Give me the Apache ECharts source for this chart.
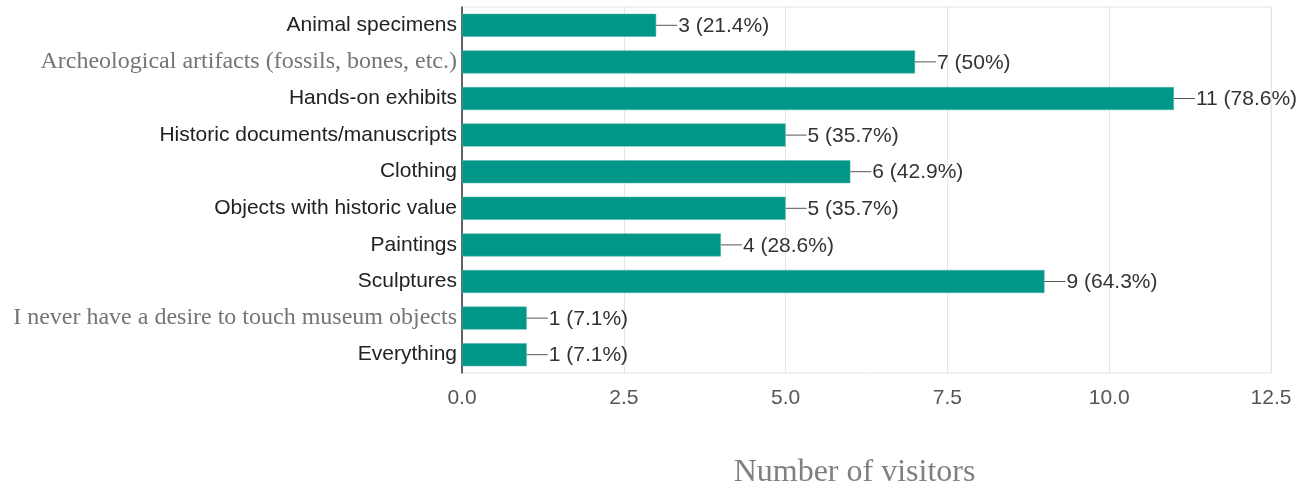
<!DOCTYPE html>
<html>
<head>
<meta charset="utf-8">
<script src="https://cdn.jsdelivr.net/npm/echarts@6/dist/echarts.min.js"></script>
<style>
html,body{margin:0;padding:0;background:#fff;}
#chart{width:1302px;height:491px;}
</style>
</head>
<body>
<div id="chart"></div>
<script>
var categories = [
  "Animal specimens",
  "Archeological artifacts (fossils, bones, etc.)",
  "Hands-on exhibits",
  "Historic documents/manuscripts",
  "Clothing",
  "Objects with historic value",
  "Paintings",
  "Sculptures",
  "I never have a desire to touch museum objects",
  "Everything"
];
var counts = [3, 7, 11, 5, 6, 5, 4, 9, 1, 1];
var percents = ["21.4%", "50%", "78.6%", "35.7%", "42.9%", "35.7%", "28.6%", "64.3%", "7.1%", "7.1%"];
var serifCategories = [1, 8];
var xTicks = { min: 0, max: 12.5, interval: 2.5 };
var axisTitle = "Number of visitors";

var chart = echarts.init(document.getElementById('chart'));
chart.setOption({
  animation: false,
  grid: { left: 462, right: 31, top: 7, bottom: 118, show: true, borderColor: '#e6e6e6', borderWidth: 1, outerBoundsMode: 'none', containLabel: false },
  xAxis: {
    type: 'value',
    min: xTicks.min, max: xTicks.max, interval: xTicks.interval,
    axisLine: { show: false },
    axisTick: { show: false },
    splitLine: { show: true, lineStyle: { color: '#e6e6e6', width: 1 } },
    axisLabel: {
      color: '#555', fontSize: 21, fontFamily: 'Liberation Sans, Arial, sans-serif', margin: 15,
      formatter: function (v) { return v.toFixed(1); }
    },
    name: axisTitle,
    nameLocation: 'middle',
    nameGap: 84,
    nameTextStyle: { color: '#808080', fontSize: 32, fontFamily: 'Liberation Serif, Times New Roman, serif', padding: [0, 24, 0, 0] }
  },
  yAxis: {
    type: 'category',
    data: categories,
    inverse: true,
    axisLine: { show: true, lineStyle: { color: '#333', width: 1.5 } },
    axisTick: { show: false },
    axisLabel: {
      margin: 5,
      formatter: function (v, i) {
        return serifCategories.indexOf(i) >= 0 ? '{s|' + v + '}' : '{n|' + v + '}';
      },
      rich: {
        n: { color: '#222', fontSize: 21, fontFamily: 'Liberation Sans, Arial, sans-serif' },
        s: { color: '#757575', fontSize: 24, fontFamily: 'Liberation Serif, Times New Roman, serif' }
      }
    }
  },
  series: [
    {
      type: 'bar',
      data: counts,
      barWidth: 23,
      itemStyle: { color: '#009688', borderColor: '#4db6ac', borderWidth: 0.5 }
    },
    {
      type: 'custom',
      data: counts.map(function (c, i) { return [c, i]; }),
      z: 5,
      renderItem: function (params, api) {
        var p = api.coord([api.value(0), api.value(1)]);
        var i = params.dataIndex;
        return {
          type: 'group',
          children: [
            { type: 'line', shape: { x1: p[0], y1: p[1], x2: p[0] + 21, y2: p[1] }, style: { stroke: '#555', lineWidth: 1 } },
            { type: 'text', x: p[0] + 22, y: p[1] + 1, style: {
              text: counts[i] + ' (' + percents[i] + ')',
              fill: '#333', font: '21px "Liberation Sans", Arial, sans-serif',
              textVerticalAlign: 'middle', textAlign: 'left', verticalAlign: 'middle', align: 'left'
            } }
          ]
        };
      }
    }
  ]
});
</script>
</body>
</html>
